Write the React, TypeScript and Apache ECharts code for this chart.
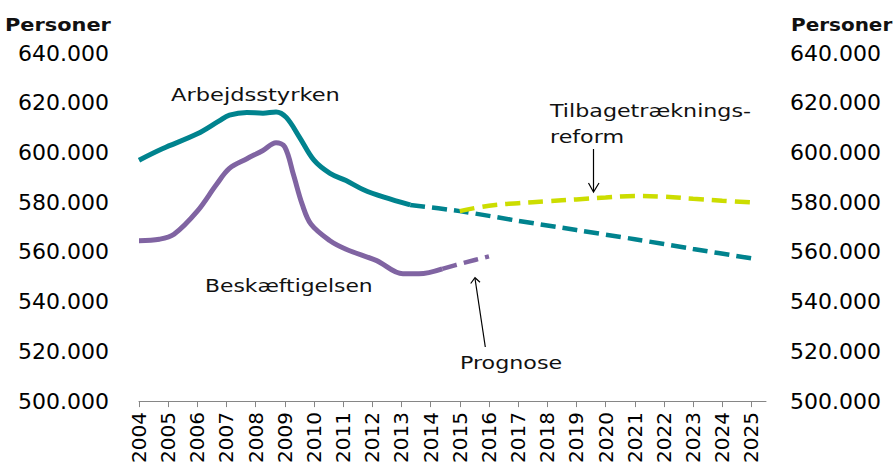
import { useEffect, useRef } from 'react';
import * as echarts from 'echarts';

const years = [2004, 2005, 2006, 2007, 2008, 2009, 2010, 2011, 2012, 2013, 2014, 2015, 2016, 2017, 2018, 2019, 2020, 2021, 2022, 2023, 2024, 2025];
const yTicks = [500, 520, 540, 560, 580, 600, 620, 640];

// Arbejdsstyrken (labour force), thousands of persons – actual
const laborX = [2004, 2004.8, 2006, 2006.75, 2007.1, 2007.7, 2008.25, 2008.7, 2009.05, 2009.5, 2010, 2010.55, 2011.1, 2011.7, 2012.4, 2013.3];
const laborY = [596.9, 601.5, 607.5, 612.7, 615.0, 616.1, 615.8, 616.3, 614.1, 606.2, 596.9, 591.6, 588.7, 585.0, 582.0, 578.9];
// Arbejdsstyrken – prognose
const laborFcX = [2013.3, 2015, 2017, 2019, 2021, 2023, 2025];
const laborFcY = [578.9, 576.4, 572.5, 568.8, 565.1, 561.2, 557.4];

// Beskæftigelsen (employment) – actual
const empX = [2004, 2004.7, 2005.2, 2006, 2006.65, 2007.1, 2007.7, 2008.25, 2008.7, 2009.0, 2009.3, 2009.6, 2009.9, 2010.55, 2011.1, 2012.15, 2013.05, 2013.6, 2014.4];
const empY = [564.5, 565.1, 567.1, 576.4, 587.0, 593.6, 597.5, 600.8, 603.9, 602.2, 590.9, 579.0, 571.1, 564.5, 561.1, 556.5, 551.2, 551.2, 553.2];
// Beskæftigelsen – prognose
const empFcX = [2014.4, 2015.2, 2016];
const empFcY = [553.2, 555.8, 558.2];

// Tilbagetrækningsreform
const reformX = [2015, 2016, 2017, 2018, 2019, 2020, 2021, 2022, 2023, 2024, 2025];
const reformY = [576.4, 578.6, 579.6, 580.4, 581.1, 581.9, 582.5, 582.2, 581.4, 580.6, 579.9];

const TEAL = '#00838E';
const PURPLE = '#8064A2';
const LIME = '#CCDD00';
const FONT = 'DejaVu Sans';

const pairs = (xs: number[], ys: number[]) => xs.map((x, i) => [x, ys[i]]);

export default function App() {
  const ref = useRef<HTMLDivElement>(null);
  useEffect(() => {
    document.body.style.margin = '0';
    if (!ref.current) return;
    const chart = echarts.init(ref.current, null, { renderer: 'svg' });
    const yAxisBase = {
      type: 'value',
      min: yTicks[0],
      max: yTicks[yTicks.length - 1],
      interval: 20,
      axisLine: { show: false },
      axisTick: { show: false },
      splitLine: { show: false },
    };
    const yLabel = {
      fontSize: 22,
      fontFamily: FONT,
      color: '#000',
      formatter: (v: number) => `${v}.000`,
    };
    const textStyle = (text: string, x: number, y: number, size: number, sx: number, bold = false) => ({
      type: 'text',
      x,
      y,
      scaleX: sx,
      silent: true,
      style: {
        text,
        fill: '#111',
        font: `${bold ? 'bold ' : ''}${size}px "${FONT}"`,
        textAlign: 'left',
        textVerticalAlign: 'middle',
      },
    });
    chart.setOption({
      animation: false,
      backgroundColor: '#fff',
      grid: { left: 139, right: 130, top: 53, bottom: 60, containLabel: false },
      xAxis: {
        type: 'value',
        min: 2004,
        max: 2025.5,
        interval: 1,
        splitLine: { show: false },
        axisLine: { show: true, lineStyle: { color: '#868686', width: 1 } },
        axisTick: { show: true, length: 6, customValues: years, lineStyle: { color: '#868686' } },
        axisLabel: {
          customValues: years,
          rotate: 90,
          margin: 11,
          fontSize: 20,
          fontFamily: FONT,
          color: '#000',
          formatter: (v: number) => String(v),
        },
      },
      yAxis: [
        { ...yAxisBase, position: 'left', axisLabel: { ...yLabel, margin: 30 } },
        { ...yAxisBase, position: 'right', axisLabel: { ...yLabel, margin: 24 } },
      ],
      series: [
        {
          name: 'Arbejdsstyrken', type: 'line', data: pairs(laborX, laborY), smooth: 0.35, symbol: 'none',
          lineStyle: { color: TEAL, width: 5 },
        },
        {
          name: 'Arbejdsstyrken prognose', type: 'line', data: pairs(laborFcX, laborFcY), smooth: 0.3, symbol: 'none',
          lineStyle: { color: TEAL, width: 4.5, type: [15, 7] },
        },
        {
          name: 'Beskæftigelsen', type: 'line', data: pairs(empX, empY), smooth: 0.35, symbol: 'none',
          lineStyle: { color: PURPLE, width: 5 },
        },
        {
          name: 'Beskæftigelsen prognose', type: 'line', data: pairs(empFcX, empFcY), smooth: 0.3, symbol: 'none',
          lineStyle: { color: PURPLE, width: 4.5, type: [15, 7] },
        },
        {
          name: 'Tilbagetrækningsreform', type: 'line', data: pairs(reformX, reformY), smooth: 0.4, symbol: 'none',
          lineStyle: { color: LIME, width: 4.5, type: [15, 8] },
        },
      ],
      graphic: [
        textStyle('Personer', 5, 25, 18.5, 1.13, true),
        textStyle('Personer', 791, 25, 18.5, 1.08, true),
        textStyle('Arbejdsstyrken', 171, 95, 18.5, 1.22),
        textStyle('Beskæftigelsen', 205, 285.5, 18.5, 1.18),
        textStyle('Tilbagetræknings-', 550, 110.5, 18.5, 1.2),
        textStyle('reform', 550, 137, 18.5, 1.2),
        textStyle('Prognose', 460, 363, 18.5, 1.2),
        {
          type: 'line', silent: true,
          shape: { x1: 593.5, y1: 149, x2: 593.5, y2: 191 },
          style: { stroke: '#000', lineWidth: 1.2 },
        },
        {
          type: 'polyline', silent: true,
          shape: { points: [[588.5, 183], [593.5, 192], [599, 183]] },
          style: { stroke: '#000', lineWidth: 1.2, fill: 'none' },
        },
        {
          type: 'line', silent: true,
          shape: { x1: 485.3, y1: 347, x2: 475, y2: 278.5 },
          style: { stroke: '#000', lineWidth: 1.2 },
        },
        {
          type: 'polyline', silent: true,
          shape: { points: [[470.7, 283.5], [475, 277.7], [480, 282.3]] },
          style: { stroke: '#000', lineWidth: 1.2, fill: 'none' },
        },
      ],
    });
    return () => chart.dispose();
  }, []);
  return <div ref={ref} style={{ width: 896, height: 466 }} />;
}
